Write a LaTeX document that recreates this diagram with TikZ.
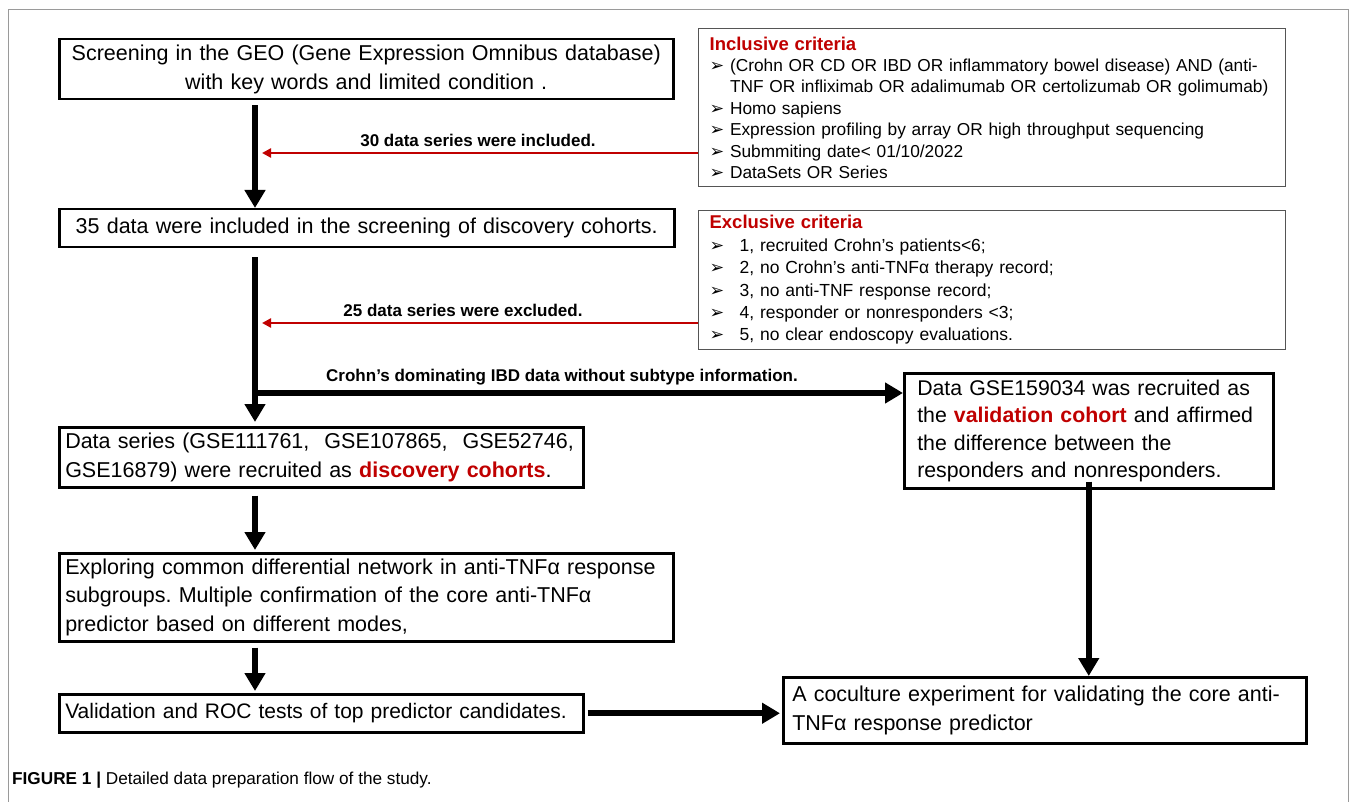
\documentclass[tikz,border=0pt]{standalone}
\usepackage{fontspec}
\setmainfont{Liberation Sans}
\newfontfamily\dejavu{DejaVu Sans}
\usetikzlibrary{arrows.meta}
\definecolor{critred}{HTML}{C00000}
\definecolor{framegray}{HTML}{9A9A9A}
\definecolor{critgray}{HTML}{555555}
\hyphenpenalty=10000
\exhyphenpenalty=10000
\frenchspacing
\newcommand{\fsz}[2]{\fontsize{#1}{#2}\selectfont}
\newcommand{\bul}{{\dejavu\fontsize{17.5}{15}\selectfont ➢}}
\newcommand{\xbul}{\makebox[30pt][l]{\bul}}
\tikzset{
  mainbox/.style={draw=black, line width=2.5pt, anchor=north west, inner xsep=0pt, inner ysep=0pt, font=\fsz{21.5}{28.5}},
  critbox/.style={draw=critgray, line width=1.2pt, anchor=north west, inner sep=0pt},
  bigarrow/.style={line width=6pt, -{Triangle[width=20pt,length=18pt]}},
  redarrow/.style={draw=critred, line width=2.5pt, -{Triangle[width=9pt,length=9pt]}},
  lab/.style={font=\bfseries\fsz{17}{18}, inner sep=0pt}
}
\begin{document}
\begin{tikzpicture}[x=1pt,y=-1pt]
\useasboundingbox (0,0) rectangle (1355,802);
\fill[white] (0,0) rectangle (1355,802);
\draw[framegray, line width=1pt] (8,802) -- (8,10) -- (1348,10) -- (1348,802);

% main boxes
\node[mainbox, minimum width=614, minimum height=60, text width=604, align=center] (b1) at (58,38)
  {Screening in the GEO (Gene Expression Omnibus database)\\with key words and limited condition .};
\node[mainbox, minimum width=615, minimum height=38, text width=605, align=center] (b2) at (58,208)
  {35 data were included in the screening of discovery cohorts.};
\node[mainbox, minimum width=524, minimum height=60, text width=512, align=left] (b3) at (58,426)
  {\mbox{Data series (GSE111761,\hspace{0.7em}GSE107865,\hspace{0.7em}GSE52746,}\\\mbox{GSE16879) were recruited as \textcolor{critred}{\bfseries discovery cohorts}.}};
\node[mainbox, minimum width=614, minimum height=88, text width=602, align=left] (b4) at (58,552)
  {\mbox{Exploring common differential network in anti-TNFα response}\\\mbox{subgroups. Multiple confirmation of the core anti-TNFα}\\\mbox{predictor based on different modes,}};
\node[mainbox, minimum width=524, minimum height=38, text width=512, align=left, font=\fsz{21}{28}] (b5) at (58,693)
  {\mbox{Validation and ROC tests of top predictor candidates.}};
\node[mainbox, minimum width=523, minimum height=66, text width=505, align=left] (b6) at (782,676)
  {\mbox{A coculture experiment for validating the core anti-}\\\mbox{TNFα response predictor}};
\node[mainbox, minimum width=369, minimum height=115, text width=343, align=left, font=\fsz{21.3}{27.5}] (val) at (903,372)
  {\mbox{Data GSE159034 was recruited as}\\\mbox{the \textcolor{critred}{\bfseries validation cohort} and affirmed}\\\mbox{the difference between the}\\\mbox{responders and nonresponders.}};

% criteria boxes
\node[critbox, minimum width=587, minimum height=158, text width=565, align=left, font=\fsz{17.3}{21.4}] (incl) at (698,28)
  {{\color{critred}\bfseries\fsz{18.5}{21.4}Inclusive criteria}\\
   \mbox{\bul\ (Crohn OR CD OR IBD OR inflammatory bowel disease) AND (anti-}\\
   \mbox{\phantom{\bul\ }TNF OR infliximab OR adalimumab OR certolizumab OR golimumab)}\\
   \mbox{\bul\ Homo sapiens}\\
   \mbox{\bul\ Expression profiling by array OR high throughput sequencing}\\
   \mbox{\bul\ Submmiting date< 01/10/2022}\\
   \mbox{\bul\ DataSets OR Series}};
\node[critbox, minimum width=587, minimum height=139, text width=565, align=left, font=\fsz{17.5}{22.4}] (excl) at (698,210)
  {{\color{critred}\bfseries\fsz{18.5}{19}Exclusive criteria}\\
   \xbul 1, recruited Crohn’s patients<6;\\
   \xbul 2, no Crohn’s anti-TNFα therapy record;\\
   \xbul 3, no anti-TNF response record;\\
   \xbul 4, responder or nonresponders <3;\\
   \xbul 5, no clear endoscopy evaluations.};

% helper coordinates
\coordinate (cx) at (255,0);
\coordinate (r1) at (262,153);
\coordinate (r2) at (262,323);
\coordinate (branch) at (252,393);

% main flow arrows
\draw[bigarrow] ([yshift=-5]b1.south -| cx) -- (b2.north -| cx);
\draw[bigarrow] ([yshift=-9]b2.south -| cx) -- ([yshift=4]b3.north -| cx);
\draw[bigarrow] (branch) -- (val.west |- branch);
\draw[bigarrow] ([yshift=-7]b3.south -| cx) -- ([yshift=2]b4.north -| cx);
\draw[bigarrow] ([yshift=-5]b4.south -| cx) -- ([yshift=2]b5.north -| cx);
\draw[bigarrow] ([xshift=3]b5.east) -- ([xshift=-2]b5.east -| b6.west);
\draw[bigarrow] ([yshift=8]val.south) -- (val.south |- b6.north);

% red arrows
\draw[redarrow] (incl.west |- r1) -- (r1);
\draw[redarrow] (excl.west |- r2) -- (r2);

% labels
\node[lab] (l1) at (478,140) {30 data series were included.};
\node[lab] (l2) at (463,310) {25 data series were excluded.};
\node[lab] (l3) at (562,377) {Crohn’s dominating IBD data without subtype information.};

% caption
\node[anchor=west, inner sep=0pt, font=\fsz{17.2}{19}] (cap) at (12,780)
  {\textbf{FIGURE 1 |} Detailed data preparation flow of the study.};
\end{tikzpicture}
\end{document}
